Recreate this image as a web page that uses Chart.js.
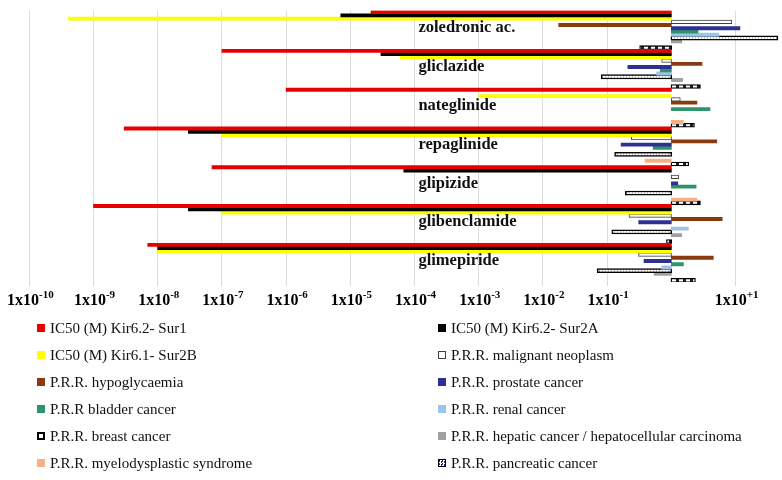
<!DOCTYPE html>
<html><head><meta charset="utf-8">
<script src="https://cdn.jsdelivr.net/npm/chart.js@4.4.1/dist/chart.umd.min.js"></script>
<style>
html,body{margin:0;padding:0;background:#fff;}
#wrap{position:relative;width:782px;height:480px;overflow:hidden;}
#legend{position:absolute;left:0;top:0;width:782px;height:480px;pointer-events:none;font-family:"Liberation Serif",serif;font-size:15px;color:#111;}
.item{position:absolute;height:16px;line-height:16px;white-space:nowrap;}
.mk{display:inline-block;width:8px;height:8px;box-sizing:border-box;vertical-align:middle;margin-right:5px;position:relative;top:-1px;}
</style></head><body>
<div id="wrap"><canvas id="c"></canvas><div id="legend"></div></div>
<script>
// ---- data ----
const drugs = ['zoledronic ac.', 'gliclazide', 'nateglinide', 'repaglinide', 'glipizide', 'glibenclamide', 'glimepiride'];
const seriesNames = [
  'IC50 (M) Kir6.2- Sur1', 'IC50 (M) Kir6.2- Sur2A', 'IC50 (M) Kir6.1- Sur2B', 'P.R.R. malignant neoplasm',
  'P.R.R. hypoglycaemia', 'P.R.R. prostate cancer', 'P.R.R bladder cancer', 'P.R.R. renal cancer',
  'P.R.R. breast cancer', 'P.R.R. hepatic cancer / hepatocellular carcinoma', 'P.R.R. myelodysplastic syndrome', 'P.R.R. pancreatic cancer'
];
const ic50Sur1       = [2.1e-5, 1.0e-7, 1.0e-6, 3.0e-9, 7.0e-8, 1.0e-9, 7.0e-9];
const ic50Sur2A      = [7.1e-6, 3.0e-5, null,   3.0e-8, 6.8e-5, 3.0e-8, 1.0e-8];
const ic50Sur2B      = [4.0e-10, 6.0e-5, 1.0e-3, 1.0e-7, null,  1.0e-7, 1.0e-8];
const prrMalignant   = [8.7, 0.71, 1.37, 0.24, 1.29, 0.22, 0.31];
const prrHypo        = [0.0176, 3.0, 2.5, 5.1, null, 6.2, 4.5];
const prrProstate    = [11.7, 0.21, null, 0.165, 1.26, 0.31, 0.375];
const prrBladder     = [2.6, 0.67, 4.0, 0.52, 2.43, null, 1.54];
const prrRenal       = [5.5, 0.59, null, null, null, 1.84, 0.71];
const prrBreast      = [45, 0.082, null, 0.133, 0.195, 0.12, 0.071];
const prrHepatic     = [1.45, 1.5, null, null, null, 1.45, 0.54];
const prrMyelo       = [null, null, 1.54, 0.39, 2.5, null, null];
const prrPancreatic  = [0.325, 2.8, 2.26, 1.84, 2.8, 0.85, 2.34];
const tickExponents  = [-10, -9, -8, -7, -6, -5, -4, -3, -2, -1, 1];
const drugLabelAnchor = 1.15e-4;

const seriesValues = [ic50Sur1, ic50Sur2A, ic50Sur2B, prrMalignant, prrHypo, prrProstate,
  prrBladder, prrRenal, prrBreast, prrHepatic, prrMyelo, prrPancreatic];

// ---- styles ----
function makePattern(w, h, draw){
  const c = document.createElement('canvas'); c.width = w; c.height = h;
  const g = c.getContext('2d'); draw(g); return g.createPattern(c, 'repeat');
}
const breastPattern = makePattern(3, 3, g => { g.fillStyle = '#ffffff'; g.fillRect(0,0,3,3); g.fillStyle = '#c0c0c0'; g.fillRect(2,0,1,3); });
const pancPattern = makePattern(7, 3, g => { g.fillStyle = '#1c1c3a'; g.fillRect(0,0,7,3); g.fillStyle = '#ffffff'; g.fillRect(0,0,4,3); });

const seriesStyles = [
  {bg:'#e60000', border:'#e60000', bw:0, inf:'auto', lg:'background:#e60000'},
  {bg:'#000000', border:'#000000', bw:0, inf:'auto', lg:'background:#000'},
  {bg:'#ffff00', border:'#ffff00', bw:0, inf:'auto', lg:'background:#ffff00'},
  {bg:'#ffffff', border:'#404040', bw:1, inf:0.5, lg:'background:#fff;border:1px solid #404040'},
  {bg:'#8b3a0f', border:'#8b3a0f', bw:0, inf:'auto', lg:'background:#8b3a0f'},
  {bg:'#2e3192', border:'#2e3192', bw:0, inf:'auto', lg:'background:#2e3192'},
  {bg:'#2f9568', border:'#2f9568', bw:0, inf:'auto', lg:'background:#2f9568'},
  {bg:'#9dc3e6', border:'#9dc3e6', bw:0, inf:'auto', lg:'background:#9dc3e6'},
  {bg:breastPattern, border:'#000000', bw:1.5, inf:0.8, lg:'background:#fff;border:2px solid #000'},
  {bg:'#a0a0a0', border:'#a0a0a0', bw:0, inf:'auto', lg:'background:#a0a0a0'},
  {bg:'#f4b183', border:'#f4b183', bw:0, inf:'auto', lg:'background:#f4b183'},
  {bg:pancPattern, border:'#000000', bw:1.3, inf:0.7, lg:'border:1.5px solid #000;background:repeating-conic-gradient(#ffffff 0 25%, #1f3070 0 50%) 0 0/3px 3px'}
];

const datasets = seriesNames.map((name, i) => ({
  label: name,
  data: seriesValues[i].map(v => v == null ? null : [1, v]),
  backgroundColor: seriesStyles[i].bg,
  borderColor: seriesStyles[i].border,
  borderWidth: seriesStyles[i].bw,
  borderSkipped: false,
  inflateAmount: seriesStyles[i].inf,
  categoryPercentage: 1,
  barPercentage: 1
}));

const labelPlugin = {
  id: 'customLabels',
  afterDraw(chart){
    const {ctx, chartArea} = chart;
    const x = chart.scales.x, y = chart.scales.y;
    ctx.save();
    ctx.fillStyle = '#000';
    ctx.textBaseline = 'alphabetic';
    ctx.textAlign = 'left';
    tickExponents.forEach(e => {
      const px = x.getPixelForValue(Math.pow(10, e));
      const main = '1x10', sup = e > 0 ? '+' + e : String(e);
      ctx.font = 'bold 16px "Liberation Serif"'; const w1 = ctx.measureText(main).width;
      ctx.font = 'bold 11px "Liberation Serif"'; const w2 = ctx.measureText(sup).width;
      const sx = px - (w1 + w2) / 2 + 1;
      ctx.font = 'bold 16px "Liberation Serif"'; ctx.fillText(main, sx, chartArea.bottom + 23);
      ctx.font = 'bold 11px "Liberation Serif"'; ctx.fillText(sup, sx + w1, chartArea.bottom + 16);
    });
    ctx.font = 'bold 16.5px "Liberation Serif"';
    ctx.fillStyle = '#111';
    drugs.forEach((d, i) => {
      ctx.fillText(d, x.getPixelForValue(drugLabelAnchor), y.getPixelForValue(i) + 2.5);
    });
    ctx.restore();
  }
};

const chart = new Chart(document.getElementById('c'), {
  type: 'bar',
  data: { labels: drugs, datasets },
  options: {
    indexAxis: 'y',
    responsive: true,
    maintainAspectRatio: false,
    animation: false,
    layout: { padding: { left: 29.3, right: 1.5, top: 10.5, bottom: 194 } },
    plugins: { legend: { display: false }, tooltip: { enabled: false } },
    scales: {
      x: {
        type: 'logarithmic',
        min: 1e-10,
        max: Math.pow(10, 1.7),
        border: { display: false },
        grid: { color: '#dcdcdc', lineWidth: 1, tickLength: 4, drawTicks: true },
        ticks: { display: false },
        afterBuildTicks: s => { s.ticks = tickExponents.map(e => ({ value: Math.pow(10, e) })); }
      },
      y: { type: 'category', display: false, offset: true }
    }
  },
  plugins: [labelPlugin]
});

// ---- HTML legend built from datasets ----
const legend = document.getElementById('legend');
const colX = [37, 438], rowY0 = 327.8, rowStep = 27;
chart.data.datasets.forEach((ds, i) => {
  const col = i % 2, row = Math.floor(i / 2);
  const div = document.createElement('div');
  div.className = 'item';
  div.style.left = colX[col] + 'px';
  div.style.top = (rowY0 + row * rowStep - 8) + 'px';
  const mk = document.createElement('span');
  mk.className = 'mk';
  mk.style.cssText = seriesStyles[i].lg;
  div.appendChild(mk);
  div.appendChild(document.createTextNode(ds.label));
  legend.appendChild(div);
});
</script>
</body></html>
